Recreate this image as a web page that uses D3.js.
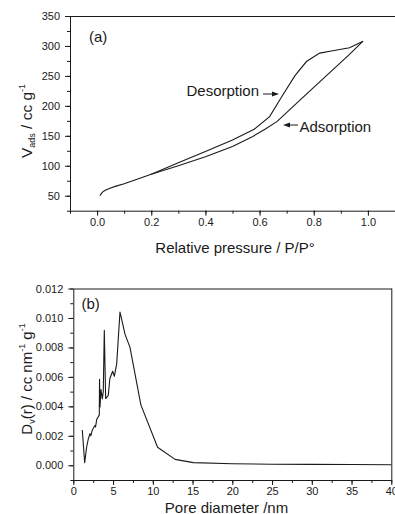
<!DOCTYPE html>
<html><head><meta charset="utf-8">
<script src="https://cdn.jsdelivr.net/npm/d3@7"></script>
<style>
body{margin:0;background:#fff;}
svg{display:block;font-family:"Liberation Sans",Arial,Helvetica,sans-serif;}
</style></head>
<body>
<script>
// ---- Data: (a) isotherm ----
const adsX = [0.01, 0.015, 0.02, 0.03, 0.05, 0.07, 0.1, 0.15, 0.2, 0.3, 0.4, 0.5, 0.575, 0.62, 0.665, 0.75, 0.8, 0.87, 0.93, 0.982];
const adsY = [50, 53, 56, 59, 63, 66, 70, 78, 86, 100, 115, 132, 149, 161, 174, 210, 231, 260, 285, 308];
const desX = [0.2, 0.3, 0.4, 0.5, 0.58, 0.637, 0.68, 0.73, 0.773, 0.822, 0.87, 0.932, 0.982];
const desY = [86, 105, 124, 143, 161, 182, 214, 250, 274, 288, 292, 297, 308];
const isoXTicks = [0.0, 0.2, 0.4, 0.6, 0.8, 1.0];
const isoYTicks = [50, 100, 150, 200, 250, 300, 350];

// ---- Data: (b) pore size distribution ----
const psdX = [1.13, 1.43, 1.6, 1.68, 1.89, 2.1, 2.2, 2.39, 2.5, 2.6, 2.73, 2.8, 2.94, 3.14, 3.27, 3.3, 3.36, 3.48, 3.65, 3.77, 3.9, 4.07, 4.4, 4.6, 4.95, 5.16, 5.46, 5.87, 6.0, 6.5, 7.13, 8.5, 10.6, 12.8, 15.1, 20, 25, 30, 35, 40];
const psdY = [0.0024, 0.00018, 0.0009, 0.00124, 0.0018, 0.00215, 0.0020, 0.0024, 0.0025, 0.0026, 0.0027, 0.0026, 0.0031, 0.0033, 0.0034, 0.00584, 0.00396, 0.00514, 0.0045, 0.0050, 0.00917, 0.00453, 0.00475, 0.00589, 0.00638, 0.00604, 0.0069, 0.0104, 0.0101, 0.0089, 0.0080, 0.0041, 0.00122, 0.0004, 0.00018, 0.0001, 0.00007, 0.00006, 0.00005, 0.00004];
const psdXTicks = [0, 5, 10, 15, 20, 25, 30, 35, 40];
const psdYTicks = [0.000, 0.002, 0.004, 0.006, 0.008, 0.010, 0.012];

const W = 395, H = 514;
const ink = "#1a1a1a";
const svg = d3.select("body").append("svg").attr("width", W).attr("height", H);

function panel(o) {
  const g = svg.append("g");
  const x = d3.scaleLinear().domain(o.xd).range([o.l, o.r]);
  const y = d3.scaleLinear().domain(o.yd).range([o.b, o.t]);
  // frame (top / right)
  g.append("line").attr("x1", o.l).attr("x2", o.r + 0.5).attr("y1", o.t + 0.5).attr("y2", o.t + 0.5).attr("stroke", ink);
  g.append("line").attr("x1", o.r + 0.5).attr("x2", o.r + 0.5).attr("y1", o.t).attr("y2", o.b).attr("stroke", ink);
  // minor ticks
  g.append("g").attr("transform", `translate(0,${o.b})`)
    .call(d3.axisBottom(x).tickValues(o.xMinor).tickSize(3).tickFormat(""))
    .call(a => a.select(".domain").remove());
  g.append("g").attr("transform", `translate(${o.l},0)`)
    .call(d3.axisLeft(y).tickValues(o.yMinor).tickSize(3).tickFormat(""))
    .call(a => a.select(".domain").remove());
  // major axes
  const ax = g.append("g").attr("transform", `translate(0,${o.b})`)
    .call(d3.axisBottom(x).tickValues(o.xTicks).tickSize(5).tickPadding(o.xPad).tickSizeOuter(0).tickFormat(o.xf));
  const ay = g.append("g").attr("transform", `translate(${o.l},0)`)
    .call(d3.axisLeft(y).tickValues(o.yTicks).tickSize(5).tickPadding(5).tickSizeOuter(0).tickFormat(o.yf));
  [ax, ay].forEach(a => {
    a.selectAll("text").attr("font-size", 11).attr("fill", ink).attr("font-family", '"Liberation Sans",Arial,sans-serif');
    a.selectAll("line").attr("stroke", ink);
    a.select(".domain").attr("stroke", ink);
  });
  g.selectAll(".tick line").attr("stroke", ink);
  return {g, x, y};
}

// ---- Panel (a) ----
const A = panel({
  l: 70, r: 395, t: 16, b: 210.7,
  xd: [-0.1, 1.1], yd: [25, 350],
  xTicks: isoXTicks, yTicks: isoYTicks,
  xMinor: d3.range(-1, 12).map(i => i / 10), yMinor: d3.range(25, 351, 25),
  xf: d3.format(".1f"), yf: d3.format("d"), xPad: 3
});
const lineA = d3.line().x(d => A.x(d[0])).y(d => A.y(d[1]));
A.g.append("path").datum(adsX.map((v, i) => [v, adsY[i]])).attr("d", lineA)
  .attr("fill", "none").attr("stroke", ink).attr("stroke-width", 1.1);
A.g.append("path").datum(desX.map((v, i) => [v, desY[i]])).attr("d", lineA)
  .attr("fill", "none").attr("stroke", ink).attr("stroke-width", 1.1);

svg.append("text").attr("x", 89).attr("y", 42).attr("font-size", 15).attr("fill", ink).text("(a)");

// annotations with arrows
svg.append("text").attr("x", 186.5).attr("y", 96).attr("font-size", 15).attr("fill", ink).text("Desorption");
svg.append("line").attr("x1", 263).attr("x2", 274).attr("y1", 94).attr("y2", 94).attr("stroke", ink);
svg.append("path").attr("d", "M279,94 L272,91.5 L272,96.5 Z").attr("fill", ink);
svg.append("text").attr("x", 299.5).attr("y", 131.5).attr("font-size", 15).attr("fill", ink).text("Adsorption");
svg.append("line").attr("x1", 298).attr("x2", 288).attr("y1", 125).attr("y2", 125).attr("stroke", ink);
svg.append("path").attr("d", "M283,125 L290,122.5 L290,127.5 Z").attr("fill", ink);

// axis titles (a)
svg.append("text").attr("x", 235).attr("y", 252.5).attr("text-anchor", "middle")
  .attr("font-size", 15).attr("fill", ink).text("Relative pressure / P/P\u00B0");
const ya = svg.append("text").attr("transform", "translate(31.5,121) rotate(-90)")
  .attr("text-anchor", "middle").attr("font-size", 15.5).attr("fill", ink);
ya.append("tspan").text("V");
ya.append("tspan").attr("font-size", 9).attr("dy", 3.5).text("ads");
ya.append("tspan").attr("dy", -3.5).text(" / cc g");
ya.append("tspan").attr("font-size", 9).attr("dy", -7).text("-1");

// ---- Panel (b) ----
const B = panel({
  l: 73.3, r: 391.3, t: 288.5, b: 480,
  xd: [0, 40], yd: [-0.001, 0.012],
  xTicks: psdXTicks, yTicks: psdYTicks,
  xMinor: d3.range(0, 41, 2.5), yMinor: d3.range(-1, 13).map(i => i / 1000),
  xf: d3.format("d"), yf: d3.format(".3f"), xPad: 2
});
const lineB = d3.line().x(d => B.x(d[0])).y(d => B.y(d[1]));
B.g.append("path").datum(psdX.map((v, i) => [v, psdY[i]])).attr("d", lineB)
  .attr("fill", "none").attr("stroke", ink).attr("stroke-width", 1.1).attr("stroke-linejoin", "round");

svg.append("text").attr("x", 81.5).attr("y", 308.5).attr("font-size", 15).attr("fill", ink).text("(b)");

svg.append("text").attr("x", 226.5).attr("y", 512.5).attr("text-anchor", "middle")
  .attr("font-size", 15).attr("fill", ink).text("Pore diameter /nm");
const yb = svg.append("text").attr("transform", "translate(31.5,379) rotate(-90)")
  .attr("text-anchor", "middle").attr("font-size", 15).attr("fill", ink);
yb.append("tspan").text("D");
yb.append("tspan").attr("font-size", 9).attr("dy", 3.5).text("v");
yb.append("tspan").attr("dy", -3.5).text("(r) / cc nm");
yb.append("tspan").attr("font-size", 9).attr("dy", -7).text("-1");
yb.append("tspan").attr("dy", 7).text(" g");
yb.append("tspan").attr("font-size", 9).attr("dy", -7).text("-1");
</script>
</body></html>
